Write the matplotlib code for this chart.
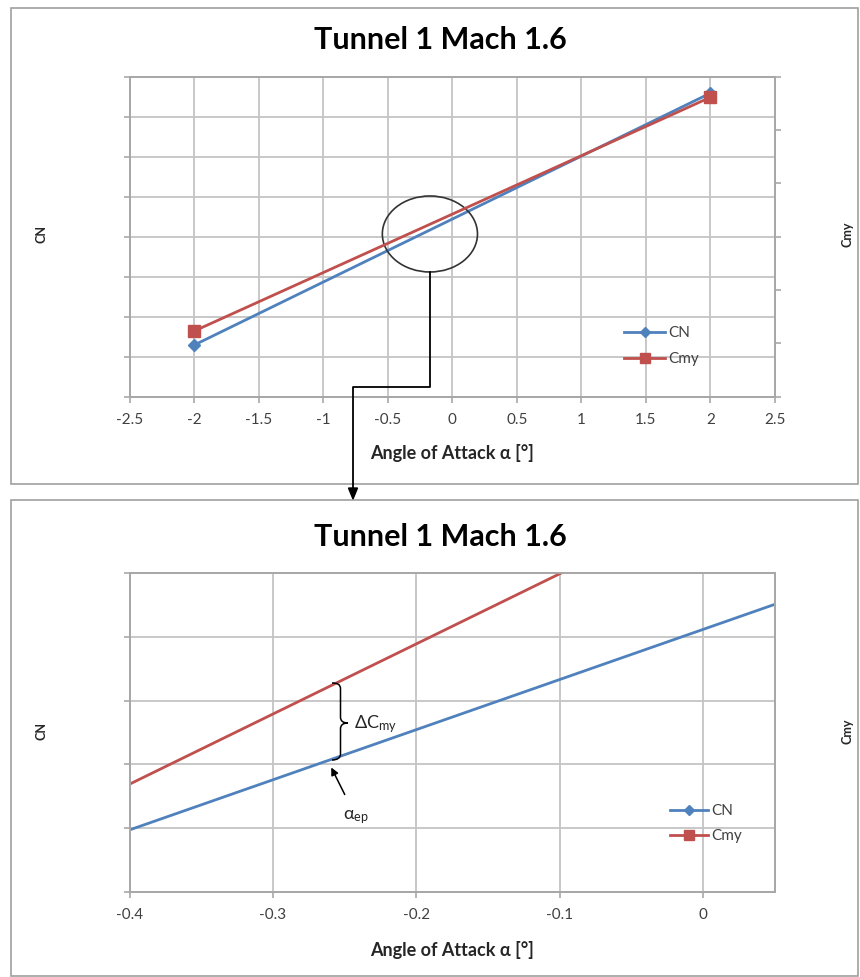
import numpy as np
import matplotlib
matplotlib.use('Agg')
import matplotlib.pyplot as plt
from matplotlib.patches import Ellipse, Rectangle, PathPatch, FancyArrowPatch, Polygon
from matplotlib.path import Path
from matplotlib.lines import Line2D
from matplotlib.transforms import Affine2D

plt.rcParams['font.family'] = ['Lato', 'DejaVu Sans']

# data (two measured points per series)
alpha = [-2.0, 2.0]
cn = [-0.271, 0.359]
cmy = [-0.0354, 0.0523]
names = ['CN', 'Cmy']
title = 'Tunnel 1 Mach 1.6'
xlabel = 'Angle of Attack α [°]'

top_xticks = [-2.5, -2, -1.5, -1, -0.5, 0, 0.5, 1, 1.5, 2, 2.5]
top_xlabels = ['-2.5', '-2', '-1.5', '-1', '-0.5', '0', '0.5', '1', '1.5', '2', '2.5']
bot_xticks = [-0.4, -0.3, -0.2, -0.1, 0]
bot_xlabels = ['-0.4', '-0.3', '-0.2', '-0.1', '0']

blue = '#4F81BD'
red = '#C0504D'
gridc = '#c4c4c4'
axc = '#a8a8a8'
txtc = '#404040'

W, H = 860, 977
fig = plt.figure(figsize=(W / 100, H / 100), dpi=100)
# pixel coords of the picture (y going down)
T = Affine2D().scale(1 / W, -1 / H).translate(0, 1) + fig.transFigure


def frame(x0, y0, x1, y1):
    return [x0 / W, 1 - y1 / H, (x1 - x0) / W, (y1 - y0) / H]


def panel(rect, xlim, xticks, xlabels, cn_lim, cn_n, cmy_lim, cmy_ticks):
    ax = fig.add_axes(rect)
    ax2 = ax.twinx()
    l1, = ax.plot(alpha, cn, color=blue, lw=2.0, marker='D', ms=6,
                  mec=blue, label=names[0])
    l2, = ax2.plot(alpha, cmy, color=red, lw=2.0, marker='s', ms=9,
                   mec=red, label=names[1])
    ax.set_xlim(xlim)
    ax.set_ylim(cn_lim)
    ax2.set_ylim(cmy_lim)
    ax.set_xticks(xticks)
    ax.set_xticklabels(xlabels)
    ax.set_yticks(np.linspace(cn_lim[0], cn_lim[1], cn_n))
    ax2.set_yticks(cmy_ticks)
    ax.grid(True, color=gridc, lw=1.3)
    ax.set_axisbelow(True)
    for a in (ax, ax2):
        for s in a.spines.values():
            s.set_color(axc)
            s.set_linewidth(1.3)
    ax.tick_params(axis='y', length=4, color=axc, width=1.2, labelleft=False)
    ax.tick_params(axis='x', length=4, color=axc, width=1.2, pad=8,
                   labelsize=11, labelcolor=txtc)
    ax2.tick_params(axis='y', length=4, color=axc, width=1.2, labelright=False)
    return ax, ax2, [l1, l2]


# ---- top panel
ax, ax2, hs = panel(frame(129.5, 76.7, 775, 396.7), (-2.5, 2.5), top_xticks, top_xlabels,
                    (-0.4, 0.4), 9, (-0.06, 0.06), np.linspace(-0.06, 0.06, 7))
ax.add_patch(Ellipse((-0.173, 0.0068), 0.737, 0.19, fill=False, ec='#333333', lw=1.2, zorder=5))
ax2.legend(hs, names, loc='center left', bbox_to_anchor=(624, 346), bbox_transform=T,
           frameon=False, fontsize=11, handlelength=2.7, handletextpad=0.2,
           labelspacing=0.8, borderpad=0, borderaxespad=0, labelcolor=txtc,
           markerscale=0.85)

# ---- bottom panel (zoom of the circle)
ax3, ax4, hs = panel(frame(129.5, 573.3, 775, 891.7), (-0.4, 0.05), bot_xticks, bot_xlabels,
                     (-0.0384, 0.0616), 6, (-0.00368, 0.00627), [])
ax4.legend(hs, names, loc='center left', bbox_to_anchor=(670, 823.5), bbox_transform=T,
           frameon=False, fontsize=11, handlelength=2.5, handletextpad=0.2,
           labelspacing=0.7, borderpad=0, borderaxespad=0, labelcolor=txtc,
           markerscale=0.85)

# texts of both panels
for dy in (0, 497):
    fig.text(440 / W, 1 - (40 + dy) / H, title, fontsize=22, fontweight='bold',
             ha='center', va='center')
    fig.text(452 / W, 1 - (453 + dy) / H, xlabel, fontsize=13, fontweight='bold',
             ha='center', va='center', color='#262626')
    fig.text(41 / W, 1 - (234 + dy) / H, 'CN', fontsize=9, fontweight='bold',
             rotation=90, ha='center', va='center', color='#262626')
    fig.text(847 / W, 1 - (234 + dy) / H, 'Cmy', fontsize=9, fontweight='bold',
             rotation=90, ha='center', va='center', color='#262626')

# panel borders
fig.add_artist(Rectangle((11, 8), 847, 476, transform=T, fill=False, ec='#a0a0a0', lw=1.2))
fig.add_artist(Rectangle((11, 500), 847, 476, transform=T, fill=False, ec='#a0a0a0', lw=1.2))

# connector from circle to the zoomed panel
fig.add_artist(Line2D([430, 430, 353, 353], [271.5, 387, 387, 490], transform=T,
                      color='black', lw=1.3))
fig.add_artist(Polygon([(348.5, 488), (357.5, 488), (353, 499)], closed=True,
                       transform=T, color='black'))

# brace for delta Cmy
verts = [(332, 683), (337, 683), (340.5, 684), (340.5, 689),
         (340.5, 717),
         (340.5, 721), (343, 723), (348, 723),
         (343, 723), (340.5, 725), (340.5, 729),
         (340.5, 754),
         (340.5, 758), (337, 760), (332, 760)]
codes = [Path.MOVETO, Path.CURVE4, Path.CURVE4, Path.CURVE4,
         Path.LINETO,
         Path.CURVE4, Path.CURVE4, Path.CURVE4,
         Path.CURVE4, Path.CURVE4, Path.CURVE4,
         Path.LINETO,
         Path.CURVE4, Path.CURVE4, Path.CURVE4]
fig.add_artist(PathPatch(Path(verts, codes), transform=T, fill=False, ec='black', lw=1.1))
fig.text(354 / W, 1 - 724 / H, r'$\mathregular{\Delta C_{my}}$', fontsize=13,
         ha='left', va='center', color='#262626')

# alpha_ep arrow
fig.add_artist(FancyArrowPatch((346, 797), (330, 765), transform=T, arrowstyle='-|>',
                               mutation_scale=11, color='black', lw=1.1))
fig.text(343 / W, 1 - 817 / H, r'$\mathregular{\alpha_{ep}}$', fontsize=13,
         ha='left', va='center', color='#262626')

fig.savefig('out.png', dpi=100, facecolor='white')
